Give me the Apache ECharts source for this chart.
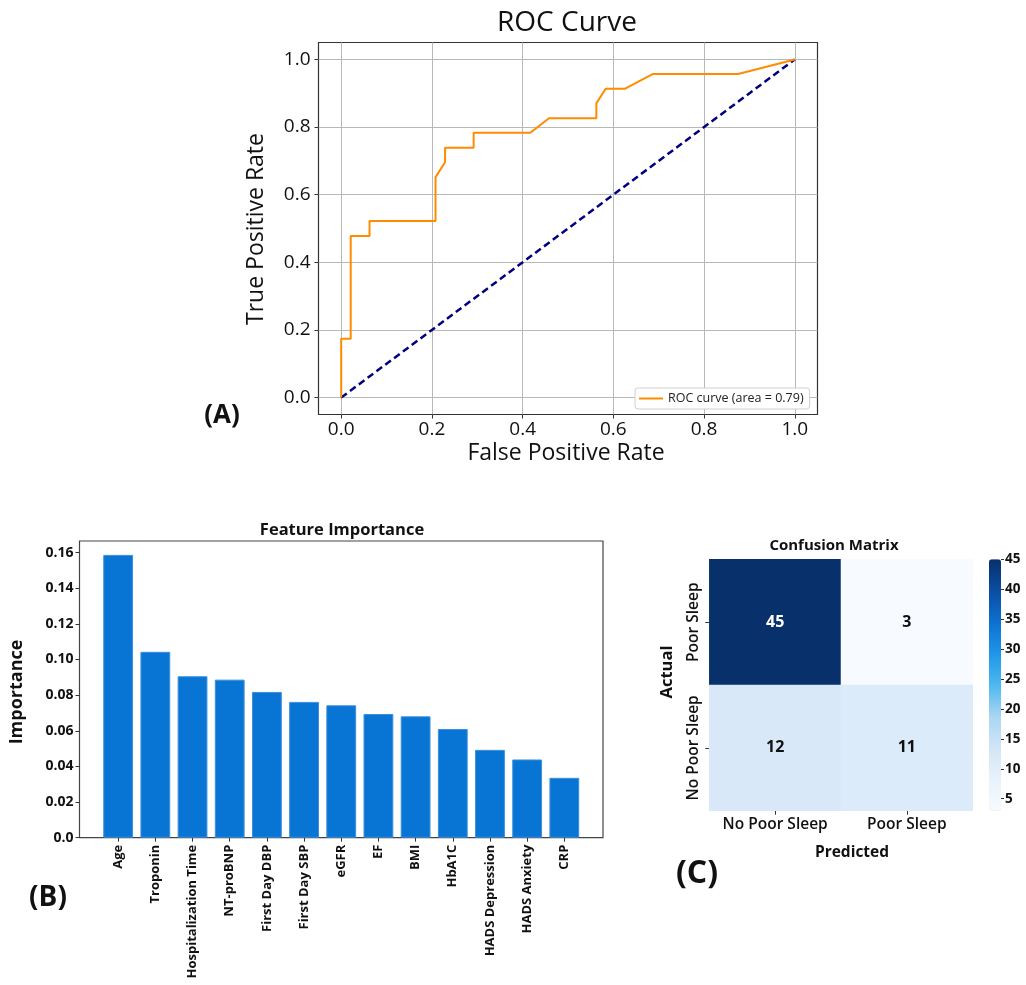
<!DOCTYPE html>
<html><head><meta charset="utf-8">
<script src="https://cdn.jsdelivr.net/npm/echarts@6/dist/echarts.min.js"></script>
<style>html,body{margin:0;padding:0;background:#fff}#c{width:1026px;height:985px}</style>
</head><body><div id="c"></div>
<script>
// ---- ROC data ----
const rocFpr = [0, 0, 0.021, 0.021, 0.0625, 0.0625, 0.208, 0.208, 0.229, 0.229, 0.292, 0.292, 0.417, 0.458, 0.5625, 0.5625, 0.583, 0.625, 0.6875, 0.875, 1];
const rocTpr = [0, 0.174, 0.174, 0.478, 0.478, 0.522, 0.522, 0.652, 0.696, 0.739, 0.739, 0.783, 0.783, 0.826, 0.826, 0.870, 0.913, 0.913, 0.957, 0.957, 1];
const chanceX = [0, 1];
const chanceY = [0, 1];
const rocTicks = [0, 0.2, 0.4, 0.6, 0.8, 1.0];
const rocName = 'ROC curve (area = 0.79)';

// ---- Feature importance data ----
const features = ['Age', 'Troponin', 'Hospitalization Time', 'NT-proBNP', 'First Day DBP', 'First Day SBP', 'eGFR', 'EF', 'BMI', 'HbA1C', 'HADS Depression', 'HADS Anxiety', 'CRP'];
const importance = [0.1587, 0.1043, 0.0906, 0.0887, 0.0818, 0.0762, 0.0743, 0.0694, 0.0681, 0.0610, 0.0493, 0.0439, 0.0336];
const impTicks = [0, 0.02, 0.04, 0.06, 0.08, 0.10, 0.12, 0.14, 0.16];

// ---- Confusion matrix data ----
const cmCols = ['No Poor Sleep', 'Poor Sleep'];
const cmRows = ['Poor Sleep', 'No Poor Sleep'];   // top to bottom
const cmValues = [[45, 3], [12, 11]];
const cbTicks = [5, 10, 15, 20, 25, 30, 35, 40, 45];

const FF = "'Open Sans','Noto Sans',sans-serif";
const chart = echarts.init(document.getElementById('c'), null, {renderer: 'canvas'});

const featIdx = features.map((f, i) => i);
const cmData = [];
cmRows.forEach((r, ri) => cmCols.forEach((c, ci) => {
  const v = cmValues[ri][ci];
  cmData.push({value: [ci, ri, v], label: {color: v > 30 ? '#ffffff' : '#111111'}});
}));

function txt(text, x, y, font, rot) {
  return {type: 'text', x: x, y: y, rotation: rot || 0, z: 100,
    style: {text: text, font: font, fill: '#111', align: 'center', verticalAlign: 'middle', textAlign: 'center', textVerticalAlign: 'middle'}};
}

const noLine = {show: false, onZero: false};

const option = {
  animation: false,
  backgroundColor: '#fff',
  textStyle: {fontFamily: FF},
  grid: [
    {left: 318.5, top: 42.5, width: 499, height: 372, show: true, borderColor: '#333', borderWidth: 1.2, backgroundColor: 'transparent'},
    {left: 79.5, top: 541, width: 523.5, height: 296.7, show: true, borderColor: '#444', borderWidth: 1.2, backgroundColor: 'transparent'},
    {left: 709.3, top: 559.3, width: 263.4, height: 251.4},
    {left: 989, top: 559.3, width: 12, height: 251.4}
  ],
  xAxis: [
    {type: 'value', gridIndex: 0, min: -0.05, max: 1.05, axisLine: noLine,
      axisTick: {show: true, customValues: rocTicks, length: 4, lineStyle: {color: '#333'}},
      axisLabel: {customValues: rocTicks, formatter: v => v.toFixed(1), fontSize: 19, color: '#111', margin: 6, fontFamily: FF},
      splitLine: {show: true, lineStyle: {color: '#b8b8b8', width: 1}}},
    {type: 'value', gridIndex: 1, min: -1.04, max: 13.04, axisLine: noLine,
      axisTick: {show: true, customValues: featIdx, length: 4, lineStyle: {color: '#333'}},
      axisLabel: {customValues: featIdx, rotate: 90, formatter: v => features[Math.round(v)], fontSize: 13, fontWeight: 'bold', color: '#111', margin: 7, fontFamily: FF},
      splitLine: {show: false}},
    {type: 'category', gridIndex: 2, data: cmCols, axisLine: noLine,
      axisTick: {show: true, alignWithLabel: true, interval: 0, length: 4, lineStyle: {color: '#333'}},
      axisLabel: {interval: 0, hideOverlap: false, fontSize: 15.5, fontWeight: 600, color: '#111', margin: 6, fontFamily: FF},
      splitLine: {show: false}},
    {type: 'value', gridIndex: 3, min: 0, max: 1, show: false}
  ],
  yAxis: [
    {type: 'value', gridIndex: 0, min: -0.05, max: 1.05, axisLine: noLine,
      axisTick: {show: true, customValues: rocTicks, length: 4, lineStyle: {color: '#333'}},
      axisLabel: {customValues: rocTicks, formatter: v => v.toFixed(1), fontSize: 19, color: '#111', margin: 8, fontFamily: FF},
      splitLine: {show: true, lineStyle: {color: '#b8b8b8', width: 1}}},
    {type: 'value', gridIndex: 1, min: 0, max: 0.1665, axisLine: noLine,
      axisTick: {show: true, customValues: impTicks, length: 4, lineStyle: {color: '#333'}},
      axisLabel: {customValues: impTicks, formatter: v => v === 0 ? '0.0' : v.toFixed(2), fontSize: 14, fontWeight: 'bold', color: '#111', margin: 6, fontFamily: FF},
      splitLine: {show: false}},
    {type: 'category', gridIndex: 2, data: cmRows, inverse: true, axisLine: noLine,
      axisTick: {show: true, alignWithLabel: true, interval: 0, length: 4, lineStyle: {color: '#333'}},
      axisLabel: {interval: 0, hideOverlap: false, rotate: 90, fontSize: 15.5, fontWeight: 600, color: '#111', margin: 8, fontFamily: FF},
      splitLine: {show: false}},
    {type: 'value', gridIndex: 3, min: 3, max: 45, position: 'right', axisLine: noLine,
      axisTick: {show: true, customValues: cbTicks, length: 3, lineStyle: {color: '#333'}},
      axisLabel: {customValues: cbTicks, fontSize: 13.5, fontWeight: 'bold', color: '#111', margin: 4, fontFamily: FF},
      splitLine: {show: false}}
  ],
  visualMap: [{
    type: 'continuous', seriesIndex: 3, min: 3, max: 45, calculable: false, show: true,
    left: 989, top: 559.3, itemWidth: 12, itemHeight: 251.4, padding: 0, text: null,
    inRange: {color: ['#f7fbff', '#e8f1fb', '#d2e5f7', '#a8d6f3', '#4db8f0', '#1f96e8', '#0d70cf', '#0a4da2', '#08306b']}
  }],
  legend: {
    data: [rocName], left: 635, top: 388, orient: 'horizontal', icon: 'rect',
    itemWidth: 24, itemHeight: 2, padding: [4, 6, 4, 4],
    backgroundColor: '#fff', borderColor: '#cfcfcf', borderWidth: 1, borderRadius: 3,
    textStyle: {fontSize: 12.5, color: '#222', fontFamily: FF}
  },
  series: [
    {name: rocName, type: 'line', xAxisIndex: 0, yAxisIndex: 0, symbol: 'none', z: 4,
      data: rocFpr.map((x, i) => [x, rocTpr[i]]),
      lineStyle: {color: '#ff8c00', width: 2}, itemStyle: {color: '#ff8c00'}},
    {name: 'chance', type: 'line', xAxisIndex: 0, yAxisIndex: 0, symbol: 'none', z: 3,
      data: chanceX.map((x, i) => [x, chanceY[i]]),
      lineStyle: {color: '#000080', width: 2.5, type: [7, 4]}, itemStyle: {color: '#000080'}},
    {name: 'importance', type: 'bar', xAxisIndex: 1, yAxisIndex: 1, barWidth: 29.8,
      data: importance.map((v, i) => [i, v]), label: {show: false},
      itemStyle: {color: '#0874d4', borderColor: '#3b8fdc', borderWidth: 1}},
    {name: 'cm', type: 'heatmap', xAxisIndex: 2, yAxisIndex: 2, data: cmData,
      label: {show: true, formatter: p => String(p.value[2]), fontSize: 16, fontWeight: 'bold', fontFamily: FF},
      itemStyle: {borderWidth: 0}}
  ],
  graphic: [
    txt('ROC Curve', 567, 23, '28px ' + FF),
    txt('True Positive Rate', 256, 229, '23px ' + FF, Math.PI / 2),
    txt('False Positive Rate', 566, 453, '23px ' + FF),
    txt('(A)', 222, 416, 'bold 26px ' + FF),
    txt('Feature Importance', 342, 530, 'bold 16.5px ' + FF),
    txt('Importance', 17, 692, 'bold 18px ' + FF, Math.PI / 2),
    txt('(B)', 48, 898, 'bold 28px ' + FF),
    txt('Confusion Matrix', 834, 546, 'bold 15px ' + FF),
    txt('Actual', 667, 672, 'bold 16.5px ' + FF, Math.PI / 2),
    txt('Predicted', 852, 853, 'bold 15.5px ' + FF),
    txt('(C)', 697, 874, 'bold 32px ' + FF)
  ]
};
chart.setOption(option);
</script></body></html>
